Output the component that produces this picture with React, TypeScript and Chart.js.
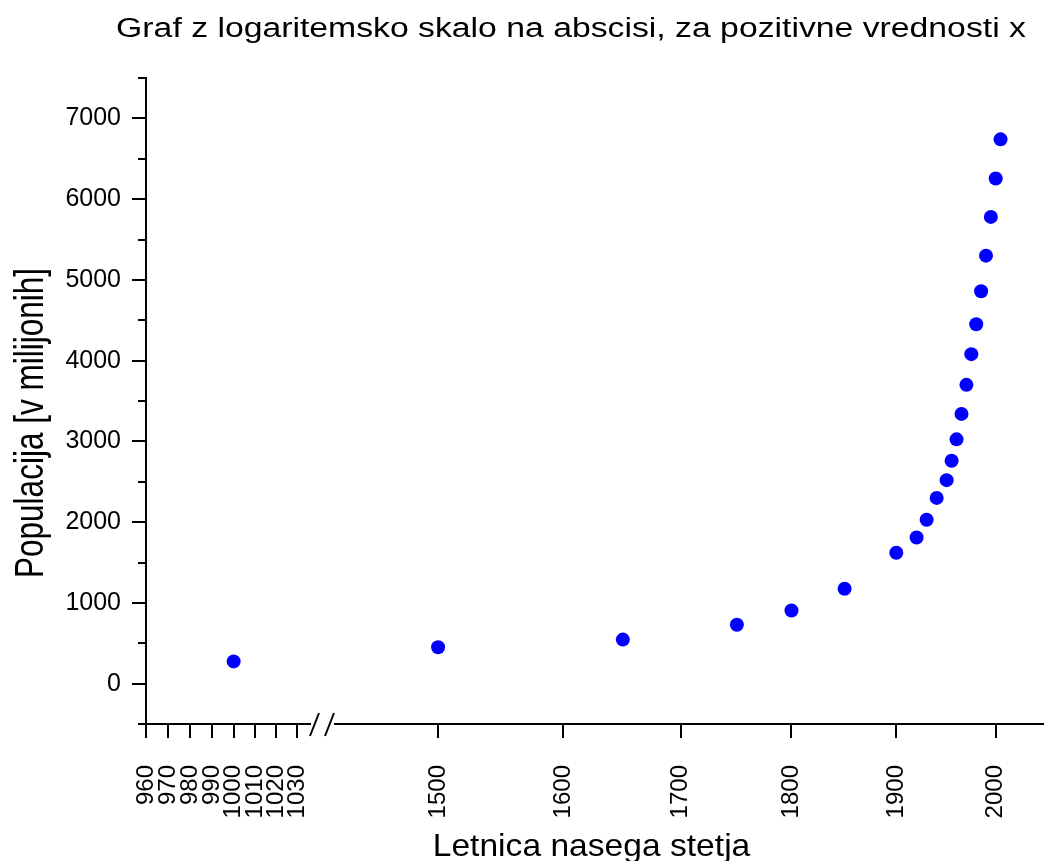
import React, { useEffect, useRef } from "react";
import { Chart, registerables } from "chart.js";

Chart.register(...registerables);

const chartTitle = "Graf z logaritemsko skalo na abscisi, za pozitivne vrednosti x";
const xAxisTitle = "Letnica nasega stetja";
const yAxisTitle = "Populacija [v milijonih]";

// segment left of the axis break
const earlyYears = [1000];
const earlyPopulation = [275];

// segment right of the axis break
const years = [1500, 1650, 1750, 1800, 1850, 1900, 1920, 1930, 1940, 1950, 1955, 1960, 1965, 1970, 1975, 1980, 1985, 1990, 1995, 2000, 2005];
const population = [450, 545, 730, 905, 1175, 1620, 1810, 2030, 2300, 2520, 2760, 3025, 3340, 3700, 4080, 4450, 4860, 5300, 5780, 6255, 6740];

const yMajorTicks = [0, 1000, 2000, 3000, 4000, 5000, 6000, 7000];
const yMinorTicks = [-500, 500, 1500, 2500, 3500, 4500, 5500, 6500, 7500];
const xEarlyTicks = [960, 970, 980, 990, 1000, 1010, 1020, 1030];
const xLateTicks = [1500, 1600, 1700, 1800, 1900, 2000];

const FONT = '"Liberation Sans", Arial, Helvetica, sans-serif';

export default function App() {
  const ref = useRef<HTMLCanvasElement>(null);

  useEffect(() => {
    document.body.style.margin = "0";
    const canvas = ref.current;
    if (!canvas) return;

    const axisDecorPlugin = {
      id: "axisDecor",
      afterDraw(chart: any) {
        const { ctx } = chart;
        const ys = chart.scales.y;
        const xl = chart.scales.xEarly;
        ctx.save();
        ctx.strokeStyle = "#000";
        ctx.lineWidth = 2;
        // minor ticks on the y axis
        ctx.beginPath();
        for (const v of yMinorTicks) {
          const py = Math.round(ys.getPixelForValue(v));
          ctx.moveTo(ys.right - 8, py);
          ctx.lineTo(ys.right, py);
        }
        ctx.stroke();
        // axis break marks between the two x segments
        const b = xl.right;
        const ay = xl.top;
        ctx.fillStyle = "#fff";
        ctx.fillRect(b - 11, ay - 3, 23, 6);
        ctx.beginPath();
        ctx.moveTo(b - 12, ay + 12);
        ctx.lineTo(b - 3, ay - 11);
        ctx.moveTo(b + 3, ay + 12);
        ctx.lineTo(b + 12, ay - 11);
        ctx.stroke();
        ctx.restore();
      },
    };

    const titlesPlugin = {
      id: "customTitles",
      afterDraw(chart: any) {
        const { ctx } = chart;
        ctx.save();
        ctx.fillStyle = "#000";
        ctx.textAlign = "center";
        ctx.textBaseline = "alphabetic";

        ctx.save();
        ctx.font = `27px ${FONT}`;
        ctx.translate(571, 36.5);
        ctx.scale(1.25, 1);
        ctx.fillText(chartTitle, 0, 0);
        ctx.restore();

        ctx.save();
        ctx.font = `32px ${FONT}`;
        ctx.translate(591.5, 855.5);
        ctx.scale(1.05, 1);
        ctx.fillText(xAxisTitle, 0, 0);
        ctx.restore();

        ctx.save();
        ctx.font = `31.5px ${FONT}`;
        ctx.translate(43, 423);
        ctx.rotate(-Math.PI / 2);
        ctx.scale(1, 1.3);
        ctx.fillText(yAxisTitle, 0, 0);
        ctx.restore();

        ctx.restore();
      },
    };

    const gridOpts = {
      drawOnChartArea: false,
      drawTicks: true,
      tickLength: 14,
      tickWidth: 2,
      tickColor: "#000",
      lineWidth: 2,
      color: "#000",
    };
    const borderOpts = { display: true, color: "#000", width: 2 };
    const xTickOpts = {
      autoSkip: false,
      minRotation: 90,
      maxRotation: 90,
      padding: 27,
      color: "#000",
      font: { family: FONT, size: 24 },
      callback: (v: any) => String(v),
    };
    const xFit = (s: any) => {
      s.height = 94;
      s.paddingLeft = 0;
      s.paddingRight = 0;
    };

    const chart = new Chart(canvas, {
      type: "scatter",
      data: {
        datasets: [
          {
            data: earlyYears.map((x, i) => ({ x, y: earlyPopulation[i] })),
            xAxisID: "xEarly",
            yAxisID: "y",
            backgroundColor: "#0000ff",
            borderColor: "#0000ff",
            pointRadius: 7,
            borderWidth: 0,
          },
          {
            data: years.map((x, i) => ({ x, y: population[i] })),
            xAxisID: "xLate",
            yAxisID: "y",
            backgroundColor: "#0000ff",
            borderColor: "#0000ff",
            pointRadius: 7,
            borderWidth: 0,
          },
        ],
      },
      options: {
        animation: false,
        responsive: false,
        events: [],
        layout: { autoPadding: false, padding: { top: 78, right: 1, bottom: 43, left: 0 } },
        plugins: {
          legend: { display: false },
          title: { display: false },
          tooltip: { enabled: false },
        },
        scales: {
          xEarly: {
            type: "logarithmic",
            position: "bottom",
            stack: "x",
            stackWeight: 176,
            bounds: "data",
            min: 960,
            max: 1042,
            afterBuildTicks: (s: any) => {
              s.ticks = xEarlyTicks.map((v) => ({ value: v }));
            },
            afterFit: xFit,
            ticks: xTickOpts,
            grid: gridOpts,
            border: borderOpts,
          },
          xLate: {
            type: "logarithmic",
            position: "bottom",
            stack: "x",
            stackWeight: 721,
            bounds: "data",
            min: 1412.8,
            max: 2049.4,
            afterBuildTicks: (s: any) => {
              s.ticks = xLateTicks.map((v) => ({ value: v }));
            },
            afterFit: xFit,
            ticks: xTickOpts,
            grid: gridOpts,
            border: borderOpts,
          },
          y: {
            type: "linear",
            position: "left",
            bounds: "data",
            min: -500,
            max: 7500,
            afterBuildTicks: (s: any) => {
              s.ticks = yMajorTicks.map((v) => ({ value: v }));
            },
            afterFit: (s: any) => {
              s.width = 146;
              s.paddingTop = 0;
              s.paddingBottom = 0;
            },
            ticks: {
              padding: 11,
              color: "#000",
              font: { family: FONT, size: 25 },
              callback: (v: any) => String(v),
            },
            grid: gridOpts,
            border: borderOpts,
          },
        },
      } as any,
      plugins: [axisDecorPlugin, titlesPlugin],
    });

    return () => chart.destroy();
  }, []);

  return (
    <div style={{ width: 1044, height: 861, background: "#fff" }}>
      <canvas ref={ref} width={1044} height={861} style={{ display: "block" }} />
    </div>
  );
}
